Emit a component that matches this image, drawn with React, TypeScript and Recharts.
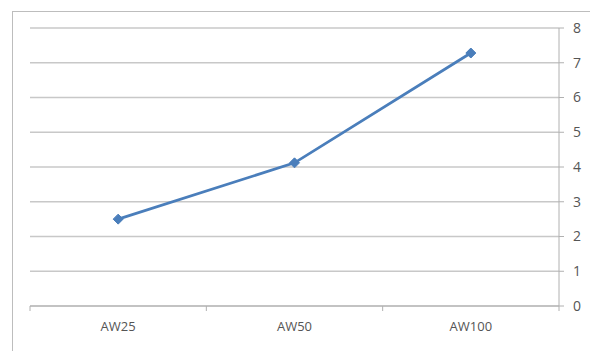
import React from "react";
import { LineChart, Line, XAxis, YAxis, CartesianGrid } from "recharts";

const categories = ["AW25", "AW50", "AW100"];
const values = [2.5, 4.12, 7.28];
const yTicks = [0, 1, 2, 3, 4, 5, 6, 7, 8];

const data = categories.map((name, i) => ({ name, value: values[i] }));

const W = 590;
const H = 351;
const X_AXIS_H = 45;
const M = { top: 28, left: 30, right: 0, bottom: 0 };
const Y_AXIS_W = 31;
const PLOT_W = W - M.left - M.right - Y_AXIS_W;
const BAND = PLOT_W / categories.length;

const LINE_COLOR = "#4a7ebb";
const GRID = "#c8c8c8";
const AXIS = "#b0b0b0";
const FONT = "'Open Sans', sans-serif";

// category label plus a tick mark on the band boundaries
const CategoryTick = (props: any) => {
  const { x, y, payload, index } = props;
  const left = x - BAND / 2;
  const right = x + BAND / 2;
  return (
    <g>
      <line x1={left} y1={y - 8} x2={left} y2={y - 3} stroke={AXIS} />
      {index === categories.length - 1 && (
        <line x1={right} y1={y - 8} x2={right} y2={y - 3} stroke={AXIS} />
      )}
      <text x={x} y={y + 17} textAnchor="middle" fill="#555" fontSize={13} fontFamily={FONT}>
        {payload.value}
      </text>
    </g>
  );
};

const Diamond = (props: any) => {
  const { cx, cy } = props;
  const r = 5;
  return (
    <path
      d={`M${cx},${cy - r}L${cx + r},${cy}L${cx},${cy + r}L${cx - r},${cy}Z`}
      fill={LINE_COLOR}
      stroke={LINE_COLOR}
    />
  );
};

export default function App() {
  return (
    <div style={{ position: "absolute", left: 0, top: 0, width: W, height: H, background: "#fff" }}>
      <div
        style={{
          position: "absolute",
          left: 12,
          top: 11,
          width: W,
          height: H,
          borderLeft: "1px solid #bdbdbd",
          borderTop: "1px solid #bdbdbd",
        }}
      />
      <div style={{ position: "absolute", left: 0, top: 0 }}>
        <LineChart width={W} height={H} data={data} margin={M}>
          <CartesianGrid horizontal vertical={false} stroke={GRID} strokeWidth={1.5} />
          <XAxis
            dataKey="name"
            scale="band"
            axisLine={{ stroke: AXIS }}
            tickLine={false}
            tick={<CategoryTick />}
            interval={0}
            height={X_AXIS_H}
          />
          <YAxis
            orientation="right"
            domain={[0, 8]}
            ticks={yTicks}
            width={Y_AXIS_W}
            axisLine={{ stroke: AXIS }}
            tickLine={{ stroke: AXIS }}
            tickSize={5}
            tickMargin={9}
            tick={{ fill: "#555", fontSize: 14, fontFamily: FONT }}
          />
          <Line
            type="linear"
            dataKey="value"
            stroke={LINE_COLOR}
            strokeWidth={2.8}
            dot={<Diamond />}
            activeDot={false}
            isAnimationActive={false}
          />
        </LineChart>
      </div>
    </div>
  );
}
